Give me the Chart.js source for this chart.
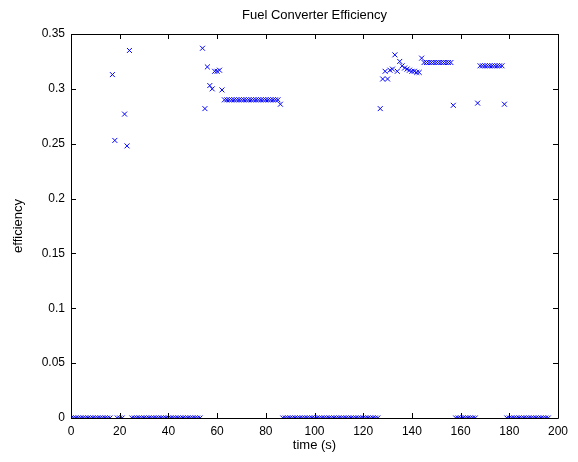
<!DOCTYPE html>
<html lang="en">
<head>
<meta charset="UTF-8">
<title>Fuel Converter Efficiency</title>
<script src="https://cdn.jsdelivr.net/npm/chart.js"></script>
<style>
  html, body { margin: 0; padding: 0; background: #fff; }
  .wrap { width: 578px; height: 462px; }
</style>
</head>
<body>
<div class="wrap"><canvas id="effChart" width="578" height="462"></canvas></div>

<script>
// time in seconds, one sample per second
var time = [
  0, 1, 2, 3, 4, 5, 6, 7, 8, 9, 10, 11, 12, 13, 14, 15, 16, 17, 18, 19,
  20, 21, 22, 23, 24, 25, 26, 27, 28, 29, 30, 31, 32, 33, 34, 35, 36, 37, 38, 39,
  40, 41, 42, 43, 44, 45, 46, 47, 48, 49, 50, 51, 52, 53, 54, 55, 56, 57, 58, 59,
  60, 61, 62, 63, 64, 65, 66, 67, 68, 69, 70, 71, 72, 73, 74, 75, 76, 77, 78, 79,
  80, 81, 82, 83, 84, 85, 86, 87, 88, 89, 90, 91, 92, 93, 94, 95, 96, 97, 98, 99,
  100, 101, 102, 103, 104, 105, 106, 107, 108, 109, 110, 111, 112, 113, 114, 115, 116, 117, 118, 119,
  120, 121, 122, 123, 124, 125, 126, 127, 128, 129, 130, 131, 132, 133, 134, 135, 136, 137, 138, 139,
  140, 141, 142, 143, 144, 145, 146, 147, 148, 149, 150, 151, 152, 153, 154, 155, 156, 157, 158, 159,
  160, 161, 162, 163, 164, 165, 166, 167, 168, 169, 170, 171, 172, 173, 174, 175, 176, 177, 178, 179,
  180, 181, 182, 183, 184, 185, 186, 187, 188, 189, 190, 191, 192, 193, 194, 195, 196
];

// fuel converter efficiency (10 values per line)
var efficiency = [
  0, 0, 0, 0, 0, 0, 0, 0, 0, 0,                                               // 0-9
  0, 0, 0, 0, 0, 0, 0, 0.313, 0.253, 0,                                       // 10-19
  0, 0, 0.277, 0.248, 0.335, 0, 0, 0, 0, 0,                                   // 20-29
  0, 0, 0, 0, 0, 0, 0, 0, 0, 0,                                               // 30-39
  0, 0, 0, 0, 0, 0, 0, 0, 0, 0,                                               // 40-49
  0, 0, 0, 0, 0.337, 0.282, 0.320, 0.303, 0.300, 0.316,                       // 50-59
  0.316, 0.317, 0.299, 0.290, 0.290, 0.290, 0.290, 0.290, 0.290, 0.290,       // 60-69
  0.290, 0.290, 0.290, 0.290, 0.290, 0.290, 0.290, 0.290, 0.290, 0.290,       // 70-79
  0.290, 0.290, 0.290, 0.290, 0.290, 0.290, 0.286, 0, 0, 0,                   // 80-89
  0, 0, 0, 0, 0, 0, 0, 0, 0, 0,                                               // 90-99
  0, 0, 0, 0, 0, 0, 0, 0, 0, 0,                                               // 100-109
  0, 0, 0, 0, 0, 0, 0, 0, 0, 0,                                               // 110-119
  0, 0, 0, 0, 0, 0, 0, 0.282, 0.309, 0.316,                                   // 120-129
  0.309, 0.317, 0.318, 0.331, 0.316, 0.325, 0.321, 0.319, 0.318, 0.317,       // 130-139
  0.316, 0.316, 0.315, 0.315, 0.328, 0.324, 0.324, 0.324, 0.324, 0.324,       // 140-149
  0.324, 0.324, 0.324, 0.324, 0.324, 0.324, 0.324, 0.285, 0, 0,               // 150-159
  0, 0, 0, 0, 0, 0, 0, 0.287, 0.321, 0.321,                                   // 160-169
  0.321, 0.321, 0.321, 0.321, 0.321, 0.321, 0.321, 0.321, 0.286, 0,           // 170-179
  0, 0, 0, 0, 0, 0, 0, 0, 0, 0,                                               // 180-189
  0, 0, 0, 0, 0, 0, 0                                                         // 190-196
];

var xTicks = [0, 20, 40, 60, 80, 100, 120, 140, 160, 180, 200];
var yTicks = [0, 0.05, 0.1, 0.15, 0.2, 0.25, 0.3, 0.35];
var yTickLabels = ["0", "0.05", "0.1", "0.15", "0.2", "0.25", "0.3", "0.35"];

var chartTitle = "Fuel Converter Efficiency";
var xTitle = "time (s)";
var yTitle = "efficiency";

var FONT = "'Liberation Sans', Arial, Helvetica, sans-serif";

// box round the plot, inward ticks on all four sides, and the texts (matlab look)
var matlabFrame = {
  id: "matlabFrame",
  afterDraw: function (chart) {
    var ctx = chart.ctx;
    var a = chart.chartArea;
    var sx = chart.scales.x;
    var sy = chart.scales.y;
    var len = 5;

    ctx.save();
    ctx.strokeStyle = "#000";
    ctx.lineWidth = 1;
    ctx.beginPath();
    ctx.rect(Math.round(a.left) + 0.5, Math.round(a.top) + 0.5,
             Math.round(a.right - a.left), Math.round(a.bottom - a.top));
    sx.ticks.forEach(function (t) {
      var px = Math.round(sx.getPixelForValue(t.value)) + 0.5;
      ctx.moveTo(px, a.bottom);
      ctx.lineTo(px, a.bottom - len);
      ctx.moveTo(px, a.top);
      ctx.lineTo(px, a.top + len);
    });
    sy.ticks.forEach(function (t) {
      var py = Math.round(sy.getPixelForValue(t.value)) + 0.5;
      ctx.moveTo(a.left, py);
      ctx.lineTo(a.left + len, py);
      ctx.moveTo(a.right, py);
      ctx.lineTo(a.right - len, py);
    });
    ctx.stroke();

    ctx.fillStyle = "#000";
    ctx.font = "13px " + FONT;
    ctx.textAlign = "center";
    ctx.textBaseline = "middle";
    var cx = (a.left + a.right) / 2;
    ctx.fillText(chartTitle, cx, 15);
    ctx.fillText(xTitle, cx, 445);

    ctx.translate(18, (a.top + a.bottom) / 2);
    ctx.rotate(-Math.PI / 2);
    ctx.fillText(yTitle, 0, 0);
    ctx.restore();
  }
};

var points = time.map(function (t, i) {
  return { x: t, y: efficiency[i] };
});

new Chart(document.getElementById("effChart"), {
  type: "scatter",
  data: {
    datasets: [{
      label: "efficiency",
      data: points,
      pointStyle: "crossRot",
      pointRadius: 3.5,
      pointHoverRadius: 3.5,
      borderColor: "rgb(0,0,255)",
      backgroundColor: "rgb(0,0,255)",
      borderWidth: 1
    }]
  },
  options: {
    responsive: false,
    animation: false,
    events: [],
    layout: { padding: { top: 34, right: 20, left: 0, bottom: 0 } },
    plugins: {
      legend: { display: false },
      title: { display: false },
      tooltip: { enabled: false }
    },
    scales: {
      x: {
        type: "linear",
        min: 0,
        max: 200,
        grid: { display: false, drawTicks: false },
        border: { display: false },
        afterBuildTicks: function (s) {
          s.ticks = xTicks.map(function (v) { return { value: v }; });
        },
        afterFit: function (s) { s.height = 44; },
        ticks: {
          padding: 6,
          color: "#000",
          font: { family: FONT, size: 12 },
          maxRotation: 0,
          callback: function (v) { return String(v); }
        }
      },
      y: {
        type: "linear",
        min: 0,
        max: 0.35,
        grid: { display: false, drawTicks: false },
        border: { display: false },
        afterBuildTicks: function (s) {
          s.ticks = yTicks.map(function (v) { return { value: v }; });
        },
        afterFit: function (s) { s.width = 71; },
        ticks: {
          padding: 6,
          color: "#000",
          font: { family: FONT, size: 12 },
          callback: function (v, i) { return yTickLabels[i]; }
        }
      }
    }
  },
  plugins: [matlabFrame]
});
</script>
</body>
</html>
